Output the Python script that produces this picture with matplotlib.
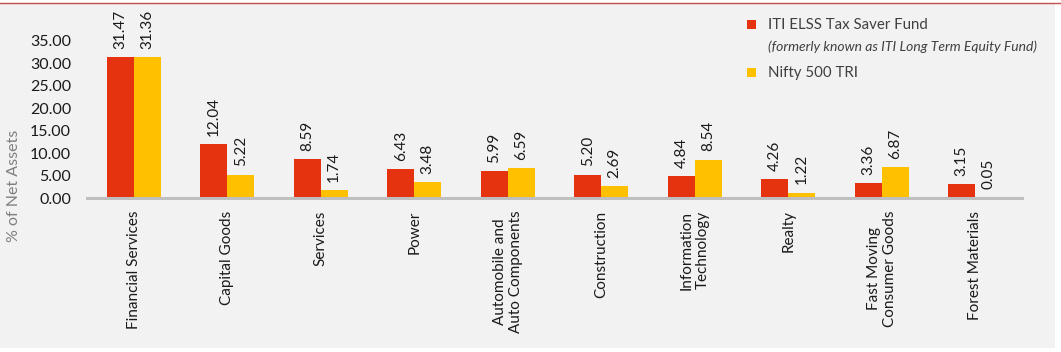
import matplotlib
matplotlib.use("Agg")
import matplotlib.pyplot as plt
from matplotlib.patches import Rectangle
from matplotlib.lines import Line2D
import numpy as np

categories = ["Financial Services", "Capital Goods", "Services", "Power",
              "Automobile and\nAuto Components", "Construction",
              "Information\nTechnology", "Realty",
              "Fast Moving\nConsumer Goods", "Forest Materials"]
fund_values = [31.47, 12.04, 8.59, 6.43, 5.99, 5.20, 4.84, 4.26, 3.36, 3.15]
index_values = [31.36, 5.22, 1.74, 3.48, 6.59, 2.69, 8.54, 1.22, 6.87, 0.05]
yticks = [0, 5, 10, 15, 20, 25, 30, 35]
fund_name = "ITI ELSS Tax Saver Fund"
fund_note = "(formerly known as ITI Long Term Equity Fund)"
index_name = "Nifty 500 TRI"
y_title = "% of Net Assets"

RED = "#E5320F"
YEL = "#FFC000"
BG = "#F2F2F2"
TXT = "#1A1A1A"

plt.rcParams['font.family'] = ['Lato', 'DejaVu Sans']

W, H = 1061, 352
fig = plt.figure(figsize=(W / 100, H / 100), dpi=100)
fig.patch.set_facecolor("white")
# light grey panel
fig.patches.append(Rectangle((0, 4 / H), 1055 / W, 1 - 8 / H, transform=fig.transFigure,
                             facecolor=BG, edgecolor="none", zorder=-10))
fig.lines.append(Line2D([0, 1], [1 - 3 / H, 1 - 3 / H], transform=fig.transFigure,
                        color="#C0504D", lw=1.0))

ax = fig.add_axes([87 / W, (H - 198) / H, 935 / W, 157 / H])
ax.set_facecolor("none")
x = np.arange(len(categories))
bw = 0.287
ax.bar(x - bw / 2, fund_values, bw, color=RED, zorder=2)
ax.bar(x + bw / 2, index_values, bw, color=YEL, zorder=2)

for xi, v in zip(x - bw / 2, fund_values):
    ax.annotate(f"{v:.2f}", (xi, v), xytext=(0, 6), textcoords="offset points",
                rotation=90, ha="center", va="bottom", fontsize=11, color=TXT,
                annotation_clip=False)
for xi, v in zip(x + bw / 2, index_values):
    ax.annotate(f"{v:.2f}", (xi, v), xytext=(0, 6), textcoords="offset points",
                rotation=90, ha="center", va="bottom", fontsize=11, color=TXT,
                annotation_clip=False)

ax.set_xlim(-0.5, len(categories) - 0.5)
ax.set_ylim(0, 35)
ax.set_yticks(yticks)
ax.set_yticklabels([f"{t:.2f}" for t in yticks], fontsize=11.5, color=TXT)
ax.set_xticks(x)
ax.set_xticklabels(categories, rotation=90, fontsize=11, color=TXT,
                   ha="center", va="top", multialignment="center")
ax.tick_params(axis="both", length=0)
ax.tick_params(axis="y", pad=11.5)
ax.tick_params(axis="x", pad=9)
for s in ["top", "right", "left"]:
    ax.spines[s].set_visible(False)
ax.spines["bottom"].set_color("#BFBFBF")
ax.spines["bottom"].set_linewidth(2.2)

fig.text(14 / W, 1 - 186 / H, y_title, rotation=90, ha="center", va="center",
         fontsize=11.5, color="#7F7F7F")

# legend
fig.patches.append(Rectangle((747 / W, 1 - 29 / H), 9 / W, 9 / H, transform=fig.transFigure,
                             facecolor=RED, edgecolor="none"))
fig.patches.append(Rectangle((747 / W, 1 - 77 / H), 9 / W, 9 / H, transform=fig.transFigure,
                             facecolor=YEL, edgecolor="none"))
fig.text(768 / W, 1 - 25 / H, fund_name, ha="left", va="center", fontsize=10.8, color="#404040")
fig.text(768 / W, 1 - 47 / H, fund_note, ha="left", va="center", fontsize=10,
         style="italic", color="#404040")
fig.text(768 / W, 1 - 73 / H, index_name, ha="left", va="center", fontsize=10.8, color="#404040")

fig.savefig("out.png", dpi=100, facecolor=fig.get_facecolor())
